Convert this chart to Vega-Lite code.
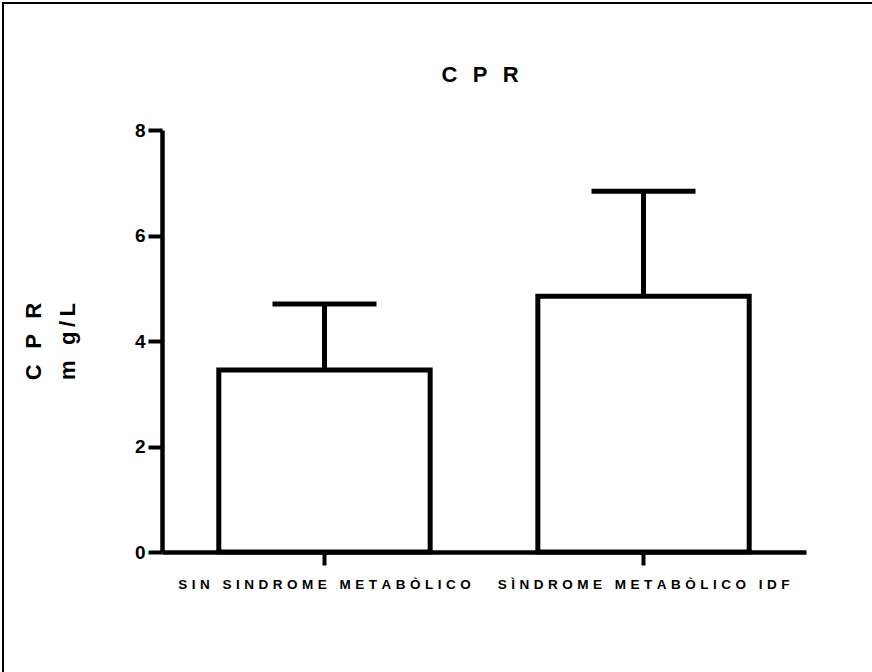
{
  "$schema": "https://vega.github.io/schema/vega-lite/v6.json",
  "autosize": "none",
  "width": 880,
  "height": 680,
  "padding": {"left": 3, "top": 3, "right": 0, "bottom": 0},
  "background": "white",
  "title": {
    "text": "C\u2002\u2009P\u2002\u2009R",
    "font": "Liberation Sans",
    "fontSize": 22,
    "fontWeight": "bold",
    "color": "black",
    "anchor": "middle",
    "offset": -84,
    "dx": 37
  },
  "data": {
    "values": [
      {"group": "SIN SINDROME METABÒLICO", "mean": 3.45, "upper": 4.7},
      {"group": "SÌNDROME METABÒLICO IDF", "mean": 4.85, "upper": 6.84}
    ]
  },
  "encoding": {
    "x": {
      "field": "group",
      "type": "nominal",
      "sort": null,
      "scale": {"range": [159, 803], "paddingInner": 0.3375, "paddingOuter": 0.178},
      "axis": {
        "orient": "bottom",
        "offset": -131,
        "title": null,
        "labelAngle": 0,
        "labelLimit": 0,
        "labelExpr": "join(split(datum.label, ''), '\u2005\u200a')",
        "labelFont": "Liberation Sans",
        "labelFontSize": 13.5,
        "labelFontWeight": "bold",
        "labelColor": "black",
        "labelPadding": 12,
        "domainColor": "black",
        "domainWidth": 4.5,
        "tickColor": "black",
        "tickWidth": 4,
        "tickSize": 13,
        "grid": false
      }
    }
  },
  "layer": [
    {
      "mark": {"type": "rule", "stroke": "black", "strokeWidth": 5},
      "encoding": {
        "y": {
          "field": "mean",
          "type": "quantitative",
          "scale": {"domain": [0, 8], "range": [549, 127], "nice": false, "zero": true},
          "axis": {
            "orient": "left",
            "offset": -159,
            "values": [0, 2, 4, 6, 8],
            "format": "d",
            "title": ["C\u2002\u2009P\u2002\u2009R", "m\u2002\u2009g\u2009/\u2009L"],
            "titleFont": "Liberation Sans",
            "titleFontSize": 22,
            "titleFontWeight": "bold",
            "titleColor": "black",
            "titlePadding": 55,
            "titleLineHeight": 34,
            "labelFont": "Liberation Sans",
            "labelFontSize": 19,
            "labelFontWeight": "bold",
            "labelColor": "black",
            "labelPadding": 3,
            "domainColor": "black",
            "domainWidth": 4.5,
            "tickColor": "black",
            "tickWidth": 4,
            "tickSize": 14,
            "grid": false
          }
        },
        "y2": {"field": "upper"}
      }
    },
    {
      "mark": {"type": "bar", "fill": "white", "stroke": "black", "strokeWidth": 5, "strokeJoin": "miter"},
      "encoding": {
        "y": {"field": "mean", "type": "quantitative"}
      }
    },
    {
      "mark": {"type": "tick", "orient": "horizontal", "size": 104, "thickness": 5, "fill": "black", "opacity": 1},
      "encoding": {
        "y": {"field": "upper", "type": "quantitative"}
      }
    }
  ],
  "config": {
    "view": {
      "stroke": "black",
      "strokeWidth": 2
    }
  }
}
